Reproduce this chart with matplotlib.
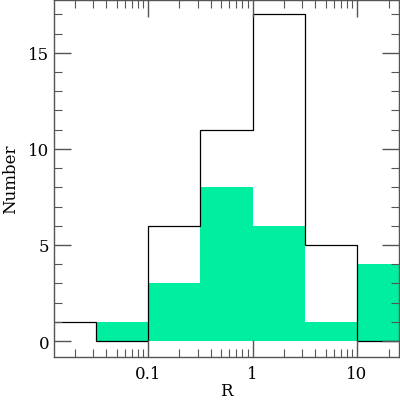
import numpy as np
import matplotlib
matplotlib.use("Agg")
import matplotlib.pyplot as plt
from matplotlib.ticker import LogLocator, FixedLocator, MultipleLocator

# bin edges in R (0.5 dex wide)
edges = [0.01, 0.0316, 0.1, 0.316, 1.0, 3.16, 10.0, 31.6]
total = [1, 0, 6, 11, 17, 5, 0]
subset = [0, 1, 3, 8, 6, 1, 4]

plt.rcParams['font.family'] = ['DejaVu Serif']

fig = plt.figure(figsize=(4.0, 4.02), dpi=100)
ax = fig.add_axes([54/400, 44/402, 345/400, 357/402])

ax.stairs(subset, edges, fill=True, color="#00eea0", lw=0)
ax.stairs(total, edges, color="k", lw=0.9)

ax.set_xscale("log")
ax.set_xlim(0.0126, 25.2)
ax.set_ylim(-0.83, 17.75)

ax.xaxis.set_major_locator(FixedLocator([0.1, 1, 10]))
ax.xaxis.set_minor_locator(LogLocator(base=10, subs=np.arange(2, 10)))
ax.set_xticklabels(["0.1", "1", "10"])
ax.yaxis.set_major_locator(MultipleLocator(5))
ax.yaxis.set_minor_locator(MultipleLocator(1))

ax.tick_params(which="both", direction="in", top=True, right=True,
               color="#555555", labelsize=12)
ax.tick_params(which="major", length=12, width=1)
ax.tick_params(which="minor", length=6, width=0.8)
ax.tick_params(axis="x", which="major", pad=6)

for s in ax.spines.values():
    s.set_color("#555555")
    s.set_linewidth(1)

ax.set_xlabel("R", fontsize=12, labelpad=0)
ax.set_ylabel("Number", fontsize=12, labelpad=6)

fig.savefig("out.png", dpi=100)
